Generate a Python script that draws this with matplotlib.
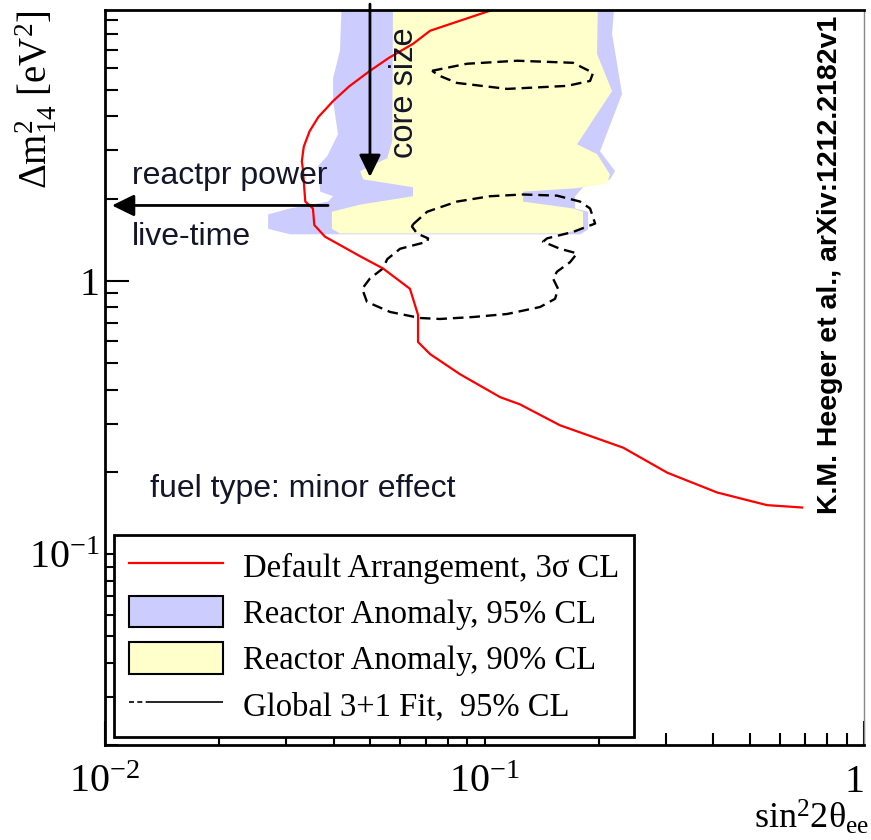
import matplotlib
matplotlib.use('Agg')
import matplotlib.pyplot as plt
from matplotlib.lines import Line2D
from matplotlib.patches import Patch
from matplotlib.ticker import LogLocator, NullFormatter
from matplotlib.font_manager import FontProperties

plt.rcParams['mathtext.fontset'] = 'custom'
plt.rcParams['mathtext.rm'] = 'Liberation Serif'
plt.rcParams['mathtext.it'] = 'Liberation Serif:italic'
plt.rcParams['mathtext.bf'] = 'Liberation Serif:bold'
plt.rcParams['font.family'] = ['Liberation Serif', 'DejaVu Serif']

# default arrangement, 3 sigma exclusion curve
red_x = [0.107, 0.0719, 0.0648, 0.0560, 0.0499, 0.0440, 0.0399, 0.0365, 0.0346, 0.0334,
         0.0330, 0.0332, 0.0337, 0.0353, 0.0356, 0.0380, 0.0409, 0.0470, 0.0540, 0.0636,
         0.0668, 0.0668, 0.0719, 0.0862, 0.110, 0.124, 0.158, 0.232, 0.303, 0.410, 0.555, 0.687]
red_y = [9.9, 8.23, 7.37, 6.55, 5.87, 5.15, 4.55, 3.98, 3.53, 3.10,
         2.74, 2.58, 1.95, 1.84, 1.60, 1.45, 1.37, 1.23, 1.11, 0.935,
         0.75, 0.597, 0.539, 0.455, 0.375, 0.353, 0.296, 0.245, 0.1985, 0.168, 0.151, 0.148]

# reactor anomaly 95% CL region
ra95_x = [0.0421, 0.2208, 0.2168, 0.2303, 0.2015, 0.2208, 0.2141, 0.1818, 0.1732,
          0.1732, 0.1874, 0.1874, 0.1785, 0.0307, 0.0269, 0.0269, 0.0307, 0.0387,
          0.0399, 0.0369, 0.0364, 0.0385, 0.0411, 0.0399, 0.0399, 0.0416]
ra95_y = [11.0, 11.0, 8.02, 4.83, 2.98, 2.52, 2.35, 2.20, 2.04,
          1.84, 1.79, 1.54, 1.48, 1.48, 1.55, 1.75, 1.84, 1.95,
          2.04, 2.12, 2.63, 2.86, 3.44, 4.55, 5.53, 6.95]

# reactor anomaly 90% CL region
ra90_x = [0.0574, 0.1991, 0.1979, 0.2168, 0.1753, 0.1979, 0.2141, 0.2103, 0.1732,
          0.1263, 0.1263, 0.1711, 0.1818, 0.1818, 0.1581, 0.0416, 0.0396, 0.0396,
          0.0470, 0.0648, 0.0648, 0.0540, 0.0479, 0.0470, 0.0554, 0.0571]
ra90_y = [11.0, 11.0, 6.77, 4.95, 3.16, 2.91, 2.45, 2.27, 2.18,
          2.12, 1.95, 1.84, 1.79, 1.54, 1.49, 1.49, 1.55, 1.79,
          1.90, 2.04, 2.20, 2.29, 2.35, 2.52, 2.81, 3.24]

# global 3+1 fit, 95% CL (two islands)
glob_a_x = [0.0727, 0.0899, 0.1218, 0.1711, 0.1932, 0.1897, 0.1650, 0.1147, 0.0846, 0.0763, 0.0727]
glob_a_y = [5.87, 6.23, 6.39, 6.28, 5.77, 5.39, 5.17, 5.04, 5.30, 5.62, 5.87]
glob_b_x = [0.0648, 0.0706, 0.0846, 0.1034, 0.1263, 0.1552, 0.1785, 0.1897, 0.1956, 0.1711,
            0.1461, 0.1426, 0.1581, 0.1753, 0.1680, 0.1552, 0.1515, 0.1562, 0.1534, 0.1401,
            0.1147, 0.0933, 0.0763, 0.0676, 0.0564, 0.0490, 0.0476, 0.0499, 0.0540, 0.0554,
            0.0599, 0.0706, 0.0710, 0.0664, 0.0644, 0.0648]
glob_b_y = [1.61, 1.79, 1.95, 2.04, 2.07, 2.05, 1.95, 1.84, 1.62, 1.51,
            1.43, 1.39, 1.31, 1.26, 1.17, 1.08, 1.02, 0.935, 0.859, 0.802,
            0.756, 0.737, 0.725, 0.731, 0.769, 0.837, 0.935, 1.02, 1.11, 1.20,
            1.31, 1.39, 1.43, 1.49, 1.58, 1.61]

legend_labels = ['Default Arrangement, 3\u03c3 CL', 'Reactor Anomaly, 95% CL',
                 'Reactor Anomaly, 90% CL', 'Global 3+1 Fit,  95% CL']

blue = '#ccccff'
yellow = '#ffffcc'
txt_col = '#15152a'

fig = plt.figure(figsize=(8.71, 8.4), dpi=100)
ax = fig.add_axes([0.1206, 0.1131, 0.8714, 0.875])
ax.set_xscale('log')
ax.set_yscale('log')

ax.fill(ra95_x, ra95_y, color=blue, lw=0, zorder=1)
ax.fill(ra90_x, ra90_y, color=yellow, lw=0, zorder=1)
ax.plot(glob_a_x, glob_a_y, color='black', lw=1.7, dashes=(4.5, 2.5))
ax.plot(glob_b_x, glob_b_y, color='black', lw=1.7, dashes=(4.5, 2.5))
ax.plot(red_x, red_y, color='red', lw=1.6)

ax.set_xlim(0.01, 1.0)
ax.set_ylim(0.02, 9.8)

# arrows
ax.annotate('', xy=(0.0499, 2.40), xytext=(0.0499, 10.3), annotation_clip=False,
            arrowprops=dict(arrowstyle='-|>,head_length=0.45,head_width=0.22',
                            mutation_scale=30, lw=2, color='black', shrinkA=0, shrinkB=0))
ax.annotate('', xy=(0.01043, 1.887), xytext=(0.0387, 1.887),
            arrowprops=dict(arrowstyle='-|>,head_length=0.45,head_width=0.22',
                            mutation_scale=30, lw=2, color='black', shrinkA=0, shrinkB=0))

sans = ['Liberation Sans', 'DejaVu Sans']
ax.text(0.0118, 2.27, 'reactpr power', family=sans, fontsize=23, color=txt_col, va='baseline')
ax.text(0.0118, 1.356, 'live-time', family=sans, fontsize=23, color=txt_col, va='baseline')
ax.text(0.01314, 0.162, 'fuel type: minor effect', family=sans, fontsize=23, color=txt_col, va='baseline')
ax.text(0.0614, 4.87, 'core size', family=sans, fontsize=23.5, color=txt_col,
        rotation=90, ha='center', va='center')
ax.text(0.955, 0.653, 'K.M. Heeger et al., arXiv:1212.2182v1', family=sans, fontsize=20.5,
        fontweight='bold', rotation=90, ha='center', va='center', transform=ax.transAxes)

# axis labels
ax.text(-0.091, 0.878, r'$\Delta\mathrm{m}^2_{14}$ [eV$^2$]', fontsize=28, rotation=90,
        ha='center', va='center', transform=ax.transAxes)
ax.text(0.931, -0.099, r'sin$^2$2$\mathrm{\theta}_{\mathrm{ee}}$', fontsize=26,
        ha='center', va='center', transform=ax.transAxes)

# ticks
ax.set_xticks([0.01, 0.1, 1.0])
ax.set_xticklabels([r'$10^{-2}$', r'$10^{-1}$', '1'])
ax.set_yticks([0.1, 1.0])
ax.set_yticklabels([r'$10^{-1}$', '1'])
ax.xaxis.set_minor_locator(LogLocator(base=10, subs=range(2, 10)))
ax.yaxis.set_minor_locator(LogLocator(base=10, subs=range(2, 10)))
ax.xaxis.set_minor_formatter(NullFormatter())
ax.yaxis.set_minor_formatter(NullFormatter())
ax.tick_params(which='both', direction='in', top=False, right=False, width=1.5, labelsize=29)
ax.tick_params(which='major', length=17)
ax.tick_params(which='minor', length=9)
ax.tick_params(axis='x', pad=14)
ax.tick_params(axis='y', pad=4)
ax.get_xticklabels()[-1].set_horizontalalignment('right')

for s in ['left', 'bottom', 'top']:
    ax.spines[s].set_linewidth(2)
ax.spines['right'].set_linewidth(1)
ax.spines['right'].set_color('#888888')

handles = [Line2D([], [], color='red', lw=1.6),
           Patch(facecolor=blue, edgecolor='black', lw=1.5),
           Patch(facecolor=yellow, edgecolor='black', lw=1.5),
           Line2D([], [], color='black', lw=1.2, dashes=(3, 2, 3, 2, 60, 1))]
leg = ax.legend(handles, legend_labels, loc='lower left', bbox_to_anchor=(0.012, 0.011),
                borderaxespad=0, fancybox=False, framealpha=1, edgecolor='black',
                prop=FontProperties(family='Liberation Serif', size=23.5),
                handlelength=2.9, handleheight=1.1, handletextpad=0.6,
                labelspacing=0.38, borderpad=0.45)
leg.get_frame().set_linewidth(2)

fig.savefig('out.png', dpi=100)
